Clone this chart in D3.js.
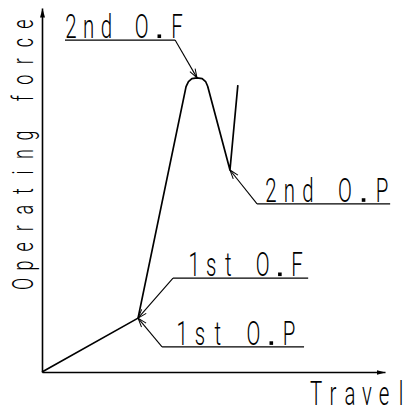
<!DOCTYPE html>
<html>
<head>
<meta charset="utf-8">
<script src="https://cdn.jsdelivr.net/npm/d3@7"></script>
<style>
  html, body { margin: 0; padding: 0; background: #fff; }
  svg { display: block; }
  .ch { font-family: Roboto, "Open Sans", "DejaVu Sans", sans-serif; font-weight: 300; fill: #000; }
</style>
</head>
<body>
<svg id="chart" width="412" height="414"></svg>
<script>
// ---- data (travel / force in relative units, 0..100) ----
const travel = [0, 28.0, 42.0, 42.7, 43.7, 45.2, 46.7, 47.7, 48.3, 54.8, 57.1];
const force  = [0, 14.8, 78.4, 79.8, 80.6, 80.8, 80.6, 79.8, 78.5, 55.5, 78.8];

// annotation labels and the curve point each one points to
const labels     = ["2nd O.F", "2nd O.P", "1st O.F", "1st O.P"];
const targetIdx  = [5, 9, 1, 1];
// underline (data units): level, start, end; text start/end
const lineLevel  = [91.2, 46.2, 25.8, 6.9];
const lineStart  = [6.7, 62.7, 38.2, 35.0];
const lineEnd    = [38.8, 101.5, 77.6, 76.4];
const textStart  = [6.7, 65.0, 42.6, 39.1];
const textEnd    = [41.1, 100.9, 76.1, 73.8];
const leaderFrom = ["end", "start", "start", "start"];

const xTitle = "Travel";
const yTitle = "Operating force";

// ---- drawing ----
const svg = d3.select("#chart");
const x = d3.scaleLinear().domain([0, 100]).range([42, 385]);
const y = d3.scaleLinear().domain([0, 100]).range([372, 8]);

const defs = svg.append("defs");
defs.append("marker").attr("id", "axArrow")
  .attr("viewBox", "-9 -4 10 8").attr("refX", 0).attr("refY", 0)
  .attr("markerWidth", 10).attr("markerHeight", 8)
  .attr("markerUnits", "userSpaceOnUse").attr("orient", "auto")
  .append("path").attr("d", "M0,0L-9,-2.5L-9,2.5Z").attr("fill", "#000");
defs.append("marker").attr("id", "openArrow")
  .attr("viewBox", "-10 -5 11 10").attr("refX", 0).attr("refY", 0)
  .attr("markerWidth", 11).attr("markerHeight", 10)
  .attr("markerUnits", "userSpaceOnUse").attr("orient", "auto")
  .append("path").attr("d", "M0,0L-9,-3M0,0L-9,3")
  .attr("fill", "none").attr("stroke", "#000").attr("stroke-width", 1);

// axes (domain lines only, with arrowheads)
const gx = svg.append("g").attr("transform", `translate(0,${y(0)})`)
  .call(d3.axisBottom(x).ticks(0).tickSizeOuter(0));
gx.select(".domain").attr("stroke", "#000").attr("stroke-width", 1.6)
  .attr("marker-end", "url(#axArrow)");
gx.selectAll(".tick").remove();

const gy = svg.append("g").attr("transform", `translate(${x(0)},0)`)
  .call(d3.axisLeft(y).ticks(0).tickSizeOuter(0));
gy.select(".domain").attr("stroke", "#000").attr("stroke-width", 1.6)
  .attr("marker-end", "url(#axArrow)");
gy.selectAll(".tick").remove();

// curve
const pts = travel.map((t, i) => [t, force[i]]);
svg.append("path")
  .attr("d", d3.line().x(d => x(d[0])).y(d => y(d[1])).curve(d3.curveLinear)(pts))
  .attr("fill", "none").attr("stroke", "#000").attr("stroke-width", 1.7)
  .attr("stroke-linejoin", "round");

// mono-spaced character placement (CAD-like narrow font)
function drawChars(g, str, x0, x1, baseline, size, sx) {
  const n = str.length, w = 12;
  const pitch = n > 1 ? (x1 - x0 - w) / (n - 1) : 0;
  str.split("").forEach((ch, i) => {
    if (ch === " ") return;
    const cx = x0 + w / 2 + i * pitch;
    if (ch === ".") {
      g.append("rect").attr("x", cx - 1.8).attr("y", baseline - 3.6)
        .attr("width", 3.6).attr("height", 3.6).attr("fill", "#000");
      return;
    }
    g.append("text").attr("class", "ch")
      .attr("font-size", size)
      .attr("text-anchor", "middle")
      .attr("transform", `translate(${cx},${baseline}) scale(${sx},1)`)
      .text(ch);
  });
}

// annotations
labels.forEach((lab, i) => {
  const ly = y(lineLevel[i]);
  svg.append("line")
    .attr("x1", x(lineStart[i])).attr("x2", x(lineEnd[i]))
    .attr("y1", ly).attr("y2", ly)
    .attr("stroke", "#000").attr("stroke-width", 1.2);
  const fx = leaderFrom[i] === "end" ? x(lineEnd[i]) : x(lineStart[i]);
  const p = pts[targetIdx[i]];
  svg.append("line")
    .attr("x1", fx).attr("y1", ly)
    .attr("x2", x(p[0])).attr("y2", y(p[1]))
    .attr("stroke", "#000").attr("stroke-width", 1.1)
    .attr("marker-end", "url(#openArrow)");
  drawChars(svg.append("g"), lab, x(textStart[i]), x(textEnd[i]), ly - 2, 33, 0.62);
});

// axis titles
drawChars(svg.append("g"), xTitle, 310, 407, 405, 33, 0.62);
const gyt = svg.append("g").attr("transform", "translate(33,290) rotate(-90)");
drawChars(gyt, yTitle, 0, 272, 0, 29, 0.62);
</script>
</body>
</html>
